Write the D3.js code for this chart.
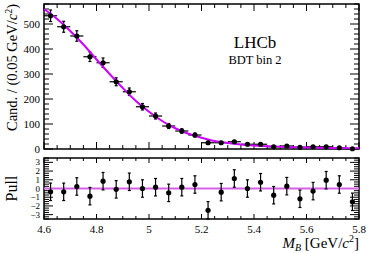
<!DOCTYPE html>
<html>
<head>
<meta charset="utf-8">
<script src="https://cdn.jsdelivr.net/npm/d3@7"></script>
<style>
  body { margin: 0; background: #fff; }
  text { font-family: "Liberation Serif", "DejaVu Serif", serif; }
</style>
</head>
<body>
<div id="chart"></div>
<script>
// bin centres (GeV/c^2), bin width 0.05
const binCentres = [4.625, 4.675, 4.725, 4.775, 4.825, 4.875, 4.925, 4.975, 5.025, 5.075, 5.125, 5.175,
                    5.225, 5.275, 5.325, 5.375, 5.425, 5.475, 5.525, 5.575, 5.625, 5.675, 5.725, 5.775];
const counts = [533, 489, 452, 369, 345, 269, 229, 169, 132, 92, 72, 56,
                25, 25, 29, 19, 19, 9, 12, 7, 9, 9, 5, 1];
const countErrors = [23, 22, 21, 19, 19, 16, 15, 13, 12, 10, 9, 8,
                     5, 5, 5, 4, 4, 3, 3, 3, 3, 3, 2, 1];
const pulls = [-0.38, -0.38, 0.23, -0.88, 0.84, -0.1, 0.77, 0, 0.15, -0.5, 0.15, 0.46,
               -2.5, -0.42, 1.15, 0, 0.72, -0.77, 0.27, -1.18, -0.3, 0.95, 0.46, -1.53];

// fit curve
const fitMass = [4.6, 4.65, 4.7, 4.75, 4.8, 4.85, 4.9, 4.95, 5.0, 5.05, 5.1, 5.15, 5.2,
                 5.25, 5.3, 5.35, 5.4, 5.45, 5.5, 5.55, 5.6, 5.65, 5.7, 5.75, 5.8];
const fitValues = [560, 520, 472, 418, 358, 300, 244, 192, 149, 112, 83, 61, 45,
                   32, 24, 18, 14, 11, 9, 7, 6, 5, 4, 3.5, 3];

const xTicks = [4.6, 4.8, 5, 5.2, 5.4, 5.6, 5.8];
const yTicks = [0, 100, 200, 300, 400, 500];
const pullTicks = [-3, -2, -1, 0, 1, 2, 3];

const W = 374, H = 253;
const left = 44, right = 359;
const main = { top: 4, bottom: 149 };
const pull = { top: 158, bottom: 219 };
const magenta = "#cc00ff";

const svg = d3.select("#chart").append("svg")
    .attr("width", W).attr("height", H);

const x = d3.scaleLinear().domain([4.6, 5.8]).range([left, right]);
const y = d3.scaleLinear().domain([0, 580]).range([main.bottom, main.top]);
const yp = d3.scaleLinear().domain([-3.5, 3.5]).range([pull.bottom, pull.top]);

const minorX = d3.range(4.6, 5.8001, 0.05).map(v => +v.toFixed(3));

function frameTicks(g, top, bottom, yScale, majorY, minorY, bigLen, smallLen) {
    // x ticks on bottom and top, pointing inward
    minorX.forEach(v => {
        const major = xTicks.some(t => Math.abs(t - v) < 1e-6);
        const len = major ? bigLen : smallLen;
        g.append("line").attr("x1", x(v)).attr("x2", x(v))
            .attr("y1", bottom).attr("y2", bottom - len);
        g.append("line").attr("x1", x(v)).attr("x2", x(v))
            .attr("y1", top).attr("y2", top + len);
    });
    minorY.forEach(v => {
        const major = majorY.some(t => Math.abs(t - v) < 1e-6);
        const len = major ? 9 : 5;
        g.append("line").attr("x1", left).attr("x2", left + len)
            .attr("y1", yScale(v)).attr("y2", yScale(v));
        g.append("line").attr("x1", right).attr("x2", right - len)
            .attr("y1", yScale(v)).attr("y2", yScale(v));
    });
    g.append("rect").attr("x", left).attr("y", top)
        .attr("width", right - left).attr("height", bottom - top)
        .attr("fill", "none").attr("stroke-width", 1.5);
}

function errBar(g, cx, lo, hi) {
    g.append("line").attr("x1", cx).attr("x2", cx).attr("y1", lo).attr("y2", hi);
    g.append("line").attr("x1", cx - 1.5).attr("x2", cx + 1.5).attr("y1", lo).attr("y2", lo);
    g.append("line").attr("x1", cx - 1.5).attr("x2", cx + 1.5).attr("y1", hi).attr("y2", hi);
}

// ---- main panel ----
const gm = svg.append("g").attr("stroke", "#000").attr("stroke-width", 1);
frameTicks(gm, main.top, main.bottom, y, yTicks,
    d3.range(0, 581, 20), 7, 4);

svg.append("g").selectAll("text").data(yTicks).join("text")
    .attr("x", left - 4).attr("y", d => y(d) + 4)
    .attr("text-anchor", "end").attr("font-size", 11)
    .text(d => d);

const pts = binCentres.map((m, i) => ({ m, n: counts[i], e: countErrors[i], p: pulls[i] }));

const gd = svg.append("g").attr("stroke", "#000").attr("stroke-width", 1.2);
pts.forEach(d => {
    gd.append("line").attr("x1", x(d.m - 0.025)).attr("x2", x(d.m + 0.025))
        .attr("y1", y(d.n)).attr("y2", y(d.n));
    errBar(gd, x(d.m), y(d.n - d.e), y(d.n + d.e));
});

const fitLine = d3.line()
    .x((d, i) => x(fitMass[i]))
    .y(d => y(d))
    .curve(d3.curveMonotoneX);
svg.append("path").datum(fitValues)
    .attr("d", fitLine)
    .attr("fill", "none").attr("stroke", magenta).attr("stroke-width", 2);

svg.append("g").selectAll("circle").data(pts).join("circle")
    .attr("cx", d => x(d.m)).attr("cy", d => y(d.n)).attr("r", 2.6)
    .attr("fill", "#000");

svg.append("text").attr("x", 255).attr("y", 48)
    .attr("text-anchor", "middle").attr("font-size", 17).text("LHCb");
svg.append("text").attr("x", 255).attr("y", 64)
    .attr("text-anchor", "middle").attr("font-size", 12.5).text("BDT bin 2");

const ylab = svg.append("text")
    .attr("transform", `translate(17,${main.top}) rotate(-90)`)
    .attr("text-anchor", "end").attr("font-size", 14.5);
ylab.append("tspan").text("Cand. / (0.05 GeV/");
ylab.append("tspan").attr("font-style", "italic").text("c");
ylab.append("tspan").attr("font-size", 10).attr("dy", -5).text("2");
ylab.append("tspan").attr("dy", 5).text(")");

// ---- pull panel ----
const gp = svg.append("g").attr("stroke", "#000").attr("stroke-width", 1);
frameTicks(gp, pull.top, pull.bottom, yp, pullTicks,
    d3.range(-3.5, 3.501, 0.25), 5, 3);

svg.append("g").selectAll("text").data(pullTicks).join("text")
    .attr("x", left - 4).attr("y", d => yp(d) + 3)
    .attr("text-anchor", "end").attr("font-size", 9)
    .text(d => d < 0 ? "\u2212" + Math.abs(d) : d);

svg.append("line").attr("x1", left).attr("x2", right)
    .attr("y1", yp(0)).attr("y2", yp(0))
    .attr("stroke", "#d860e8").attr("stroke-width", 2);

const gpd = svg.append("g").attr("stroke", "#000").attr("stroke-width", 1.2);
pts.forEach(d => {
    errBar(gpd, x(d.m), yp(d.p - 1), yp(d.p + 1));
});
svg.append("g").selectAll("circle").data(pts).join("circle")
    .attr("cx", d => x(d.m)).attr("cy", d => yp(d.p)).attr("r", 2.6)
    .attr("fill", "#000");

svg.append("g").selectAll("text").data(xTicks).join("text")
    .attr("x", d => x(d)).attr("y", 233)
    .attr("text-anchor", "middle").attr("font-size", 11)
    .text(d => d);

svg.append("text")
    .attr("transform", `translate(17,${(pull.top + pull.bottom) / 2}) rotate(-90)`)
    .attr("text-anchor", "middle").attr("font-size", 16).text("Pull");

const xlab = svg.append("text").attr("x", right).attr("y", 248)
    .attr("text-anchor", "end").attr("font-size", 15);
xlab.append("tspan").attr("font-style", "italic").text("M");
xlab.append("tspan").attr("font-style", "italic").attr("font-size", 10).attr("dy", 3).text("B");
xlab.append("tspan").attr("dy", -3).text(" [GeV/");
xlab.append("tspan").attr("font-style", "italic").text("c");
xlab.append("tspan").attr("font-size", 10).attr("dy", -6).text("2");
xlab.append("tspan").attr("dy", 6).text("]");
</script>
</body>
</html>
